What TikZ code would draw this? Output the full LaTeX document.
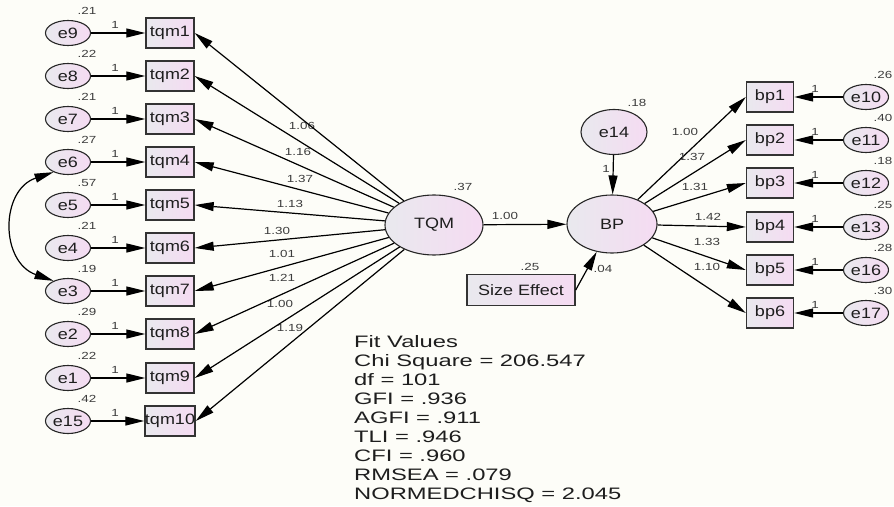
\documentclass[tikz,border=0pt]{standalone}
\usepackage{fontspec}
\usetikzlibrary{shapes.geometric,arrows.meta}
\newfontfamily\lblfam[FakeStretch=1.2]{Liberation Sans}
\newfontfamily\smfam[FakeStretch=1.3]{Liberation Sans}
\newfontfamily\fitfam[FakeStretch=1.43]{Liberation Sans}
\newcommand\lblfont{\lblfam\fontsize{15}{18}\selectfont}
\newcommand\smfont{\smfam\fontsize{10.3}{12}\selectfont}
\newcommand\fitfont{\fitfam\fontsize{16.6}{19}\selectfont}
\definecolor{bgc}{RGB}{253,253,248}
\definecolor{shA}{RGB}{233,233,238}
\definecolor{shB}{RGB}{245,219,242}
\definecolor{txt}{RGB}{30,30,30}
\definecolor{smc}{RGB}{60,60,60}
\tikzset{
  arr/.style={-{Triangle[length=19pt,width=9pt]}, line width=1.2pt, black},
  darr/.style={{Triangle[length=19pt,width=9pt]}-{Triangle[length=19pt,width=9pt]}, line width=1.2pt, black},
  ell/.style={ellipse, draw=black!85, line width=1.1pt, left color=shA, right color=shB,
    minimum width=45pt, minimum height=25pt, inner sep=0pt, font=\lblfont, text=txt},
  obs/.style={rectangle, draw=black!80, line width=1.4pt, left color=shA, right color=shB,
    minimum width=48pt, minimum height=30pt, inner sep=0pt, font=\lblfont, text=txt},
  sm/.style={font=\smfont, inner sep=0pt, text=smc},
  fitl/.style={font=\fitfont, inner sep=0pt, anchor=base west, text=txt},
}
\begin{document}
\begin{tikzpicture}[x=1pt,y=-1pt]
\fill[bgc] (0,0) rectangle (894,506);
\useasboundingbox (0,0) rectangle (894,506);

% latent variables
\node[ell, minimum width=98pt, minimum height=60pt] (TQM) at (434,225) {TQM};
\node[ell, minimum width=90pt, minimum height=58pt] (BP) at (612,224) {BP};
\node[ell, minimum width=66pt, minimum height=45pt] (e14) at (614,132) {e14};
\node[obs, minimum width=108pt, minimum height=31pt] (se) at (521,290) {Size Effect};

\node[sm] (vTQM) at (463,187) {.37};
\node[sm] (vBP) at (637,103) {.18};
\node[sm] (vse) at (530,267) {.25};
\node[sm] (l14) at (606,169) {1};
\node[sm] (lTB) at (505,216) {1.00};
\node[sm] (lse) at (603,269) {.04};

\draw[arr] (TQM) -- (BP);
\draw[arr] (e14) -- (BP);
\draw[arr] (se.east) -- (BP);

% left indicators
\foreach \e/\b/\v/\y in {e9/tqm1/.21/33, e8/tqm2/.22/76, e7/tqm3/.21/119, e6/tqm4/.27/162,
  e5/tqm5/.57/205, e4/tqm6/.21/248, e3/tqm7/.19/291, e2/tqm8/.29/334, e1/tqm9/.22/378, e15/tqm10/.42/421}{
  \node[ell] (\e) at (68,\y) {\e};
  \node[obs] (\b) at (170,\y) {\b};
  \node[sm] (v\e) at (87,\y-22) {\v};
  \node[sm] (o\e) at (115,\y-8) {1};
  \draw[arr] (\e) -- (\b);
}
\foreach \b/\l/\lx/\ly in {tqm1/1.06/302/126, tqm2/1.16/298/152, tqm3/1.37/300/179, tqm4/1.13/290/204,
  tqm5/1.30/277/231, tqm6/1.01/282/254, tqm7/1.21/282/278, tqm8/1.00/280/304, tqm9/1.19/290/328}{
  \node[sm] (L\b) at (\lx,\ly) {\l};
}
\foreach \b in {tqm1,tqm2,tqm3,tqm4,tqm5,tqm6,tqm7,tqm8,tqm9,tqm10}{
  \draw[arr] (TQM) -- (\b.east);
}
\draw[darr] (e6.215) .. controls (0,190) and (0,262) .. (e3.145);

% right indicators
\foreach \b/\e/\v/\y/\l/\lx/\ly in {bp1/e10/.26/97/1.00/685/132, bp2/e11/.40/140/1.37/692/157,
  bp3/e12/.18/183/1.31/695/187, bp4/e13/.25/227/1.42/708/217, bp5/e16/.28/270/1.33/707/242,
  bp6/e17/.30/313/1.10/707/267}{
  \node[obs, minimum width=47pt] (\b) at (770,\y) {\b};
  \node[ell] (\e) at (866,\y) {\e};
  \node[sm] (v\e) at (883,\y-22) {\v};
  \node[sm] (o\e) at (815,\y-8) {1};
  \node[sm] (L\b) at (\lx,\ly) {\l};
  \draw[arr] (\e) -- (\b);
  \draw[arr] (BP) -- (\b.west);
}

% fit values
\node[fitl] (f1) at (354,347) {Fit Values};
\node[fitl] (f2) at (354,366) {Chi Square = 206.547};
\node[fitl] (f3) at (354,385) {df = 101};
\node[fitl] (f4) at (354,404) {GFI = .936};
\node[fitl] (f5) at (354,423) {AGFI = .911};
\node[fitl] (f6) at (354,442) {TLI = .946};
\node[fitl] (f7) at (354,461) {CFI = .960};
\node[fitl] (f8) at (354,480) {RMSEA = .079};
\node[fitl] (f9) at (354,499) {NORMEDCHISQ = 2.045};
\end{tikzpicture}
\end{document}
